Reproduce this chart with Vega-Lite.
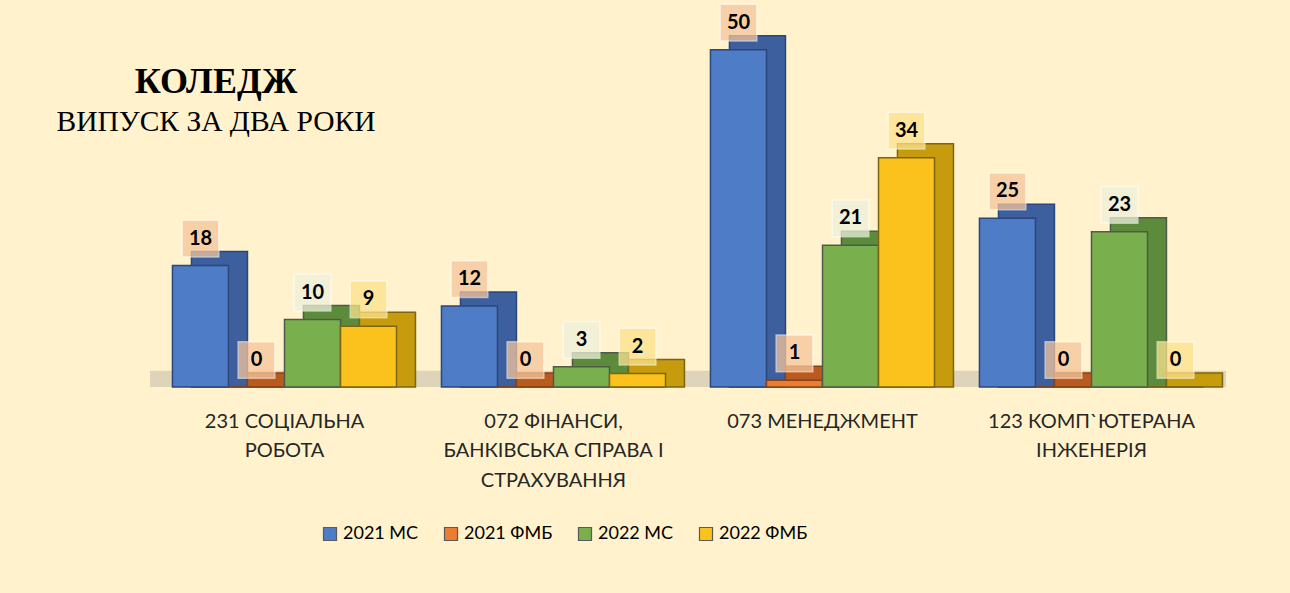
{
  "$schema": "https://vega.github.io/schema/vega-lite/v6.json",
  "autosize": {"type": "none"},
  "width": 1076,
  "height": 371,
  "padding": {"left": 150, "top": 16, "right": 64, "bottom": 206},
  "background": "#fff2cc",
  "config": {
    "view": {"stroke": null},
    "axisX": {
      "title": null,
      "domain": false,
      "ticks": false,
      "labelAngle": 0,
      "labelLimit": 0,
      "labelFont": "Lato",
      "labelFontSize": 20,
      "labelColor": "#262626",
      "labelPadding": 24,
      "labelLineHeight": 29.5
    }
  },
  "title": {
    "text": "КОЛЕДЖ",
    "subtitle": "ВИПУСК ЗА ДВА РОКИ",
    "anchor": "start",
    "align": "center",
    "dx": 66,
    "offset": -136,
    "font": "Liberation Serif",
    "fontSize": 36,
    "fontWeight": "bold",
    "color": "#000000",
    "subtitleFont": "Liberation Serif",
    "subtitleFontSize": 29.5,
    "subtitleColor": "#000000",
    "subtitlePadding": 7
  },
  "data": {
    "values": [
      {"cat": "231 СОЦІАЛЬНА|РОБОТА", "series": "2021 МС", "value": 18},
      {"cat": "231 СОЦІАЛЬНА|РОБОТА", "series": "2021 ФМБ", "value": 0},
      {"cat": "231 СОЦІАЛЬНА|РОБОТА", "series": "2022 МС", "value": 10},
      {"cat": "231 СОЦІАЛЬНА|РОБОТА", "series": "2022 ФМБ", "value": 9},
      {"cat": "072 ФІНАНСИ,|БАНКІВСЬКА СПРАВА І|СТРАХУВАННЯ", "series": "2021 МС", "value": 12},
      {"cat": "072 ФІНАНСИ,|БАНКІВСЬКА СПРАВА І|СТРАХУВАННЯ", "series": "2021 ФМБ", "value": 0},
      {"cat": "072 ФІНАНСИ,|БАНКІВСЬКА СПРАВА І|СТРАХУВАННЯ", "series": "2022 МС", "value": 3},
      {"cat": "072 ФІНАНСИ,|БАНКІВСЬКА СПРАВА І|СТРАХУВАННЯ", "series": "2022 ФМБ", "value": 2},
      {"cat": "073 МЕНЕДЖМЕНТ", "series": "2021 МС", "value": 50},
      {"cat": "073 МЕНЕДЖМЕНТ", "series": "2021 ФМБ", "value": 1},
      {"cat": "073 МЕНЕДЖМЕНТ", "series": "2022 МС", "value": 21},
      {"cat": "073 МЕНЕДЖМЕНТ", "series": "2022 ФМБ", "value": 34},
      {"cat": "123 КОМП`ЮТЕРАНА|ІНЖЕНЕРІЯ", "series": "2021 МС", "value": 25},
      {"cat": "123 КОМП`ЮТЕРАНА|ІНЖЕНЕРІЯ", "series": "2021 ФМБ", "value": 0},
      {"cat": "123 КОМП`ЮТЕРАНА|ІНЖЕНЕРІЯ", "series": "2022 МС", "value": 23},
      {"cat": "123 КОМП`ЮТЕРАНА|ІНЖЕНЕРІЯ", "series": "2022 ФМБ", "value": 0}
    ]
  },
  "layer": [
    {
      "data": {"values": [{"floor": 1}]},
      "mark": {"type": "rect", "color": "#ded4b9"},
      "encoding": {
        "x": {"value": 0},
        "x2": {"value": "width"},
        "y": {"datum": 0, "type": "quantitative", "scale": {"domain": [0, 55], "nice": false}, "axis": null},
        "y2": {"datum": 2.4}
      }
    },
    {
      "mark": {"type": "bar", "yOffset": -14, "strokeWidth": 1.5},
      "encoding": {
        "x": {
          "field": "cat", "type": "nominal", "sort": null,
          "scale": {"paddingInner": 0.167, "paddingOuter": 0.0835},
          "axis": {"labelExpr": "split(datum.value, '|')"}
        },
        "xOffset": {
          "field": "series", "type": "nominal",
          "sort": ["2021 МС", "2021 ФМБ", "2022 МС", "2022 ФМБ"],
          "scale": {"range": [19, 243], "paddingInner": 0, "paddingOuter": 0}
        },
        "y": {"field": "value", "type": "quantitative", "scale": {"domain": [0, 55], "nice": false}, "axis": null},
        "y2": {"datum": 0},
        "fill": {
          "field": "series", "type": "nominal",
          "scale": {"domain": ["2021 МС", "2021 ФМБ", "2022 МС", "2022 ФМБ"], "range": ["#3d5f9e", "#b95a1f", "#5c8b3b", "#c79b0e"]},
          "legend": null
        },
        "stroke": {
          "field": "series", "type": "nominal",
          "scale": {"domain": ["2021 МС", "2021 ФМБ", "2022 МС", "2022 ФМБ"], "range": ["#2a467a", "#8a4114", "#4f5a4a", "#7d6410"]},
          "legend": null
        }
      }
    },
    {
      "encoding": {
        "x": {
          "field": "cat", "type": "nominal", "sort": null,
          "scale": {"paddingInner": 0.167, "paddingOuter": 0.0835},
          "axis": {"labelExpr": "split(datum.value, '|')"}
        },
        "xOffset": {
          "field": "series", "type": "nominal",
          "sort": ["2021 МС", "2021 ФМБ", "2022 МС", "2022 ФМБ"],
          "scale": {"paddingInner": 0, "paddingOuter": 0}
        },
        "y": {"field": "value", "type": "quantitative", "scale": {"domain": [0, 55], "nice": false}, "axis": null}
      },
      "layer": [
        {
          "mark": {"type": "bar", "strokeWidth": 1.5},
          "encoding": {
            "fill": {
              "field": "series", "type": "nominal", "title": null,
              "scale": {"domain": ["2021 МС", "2021 ФМБ", "2022 МС", "2022 ФМБ"], "range": ["#4f7cc6", "#ec7c30", "#7aaf4e", "#fbc11c"]},
              "legend": {
                "orient": "none",
                "direction": "horizontal",
                "legendX": 171,
                "legendY": 509,
                "symbolType": "square",
                "symbolSize": 170,
                "symbolStrokeColor": "#5a5a5a",
                "symbolStrokeWidth": 1.2,
                "labelFont": "Lato",
                "labelFontSize": 18,
                "labelColor": "#000000",
                "labelOffset": 4,
                "columnPadding": 23
              }
            },
            "stroke": {
              "field": "series", "type": "nominal",
              "scale": {"domain": ["2021 МС", "2021 ФМБ", "2022 МС", "2022 ФМБ"], "range": ["#2a467a", "#8a4114", "#4f5a4a", "#7d6410"]},
              "legend": null
            }
          }
        },
        {
          "mark": {"type": "point", "shape": "square", "filled": true, "size": 1350, "yOffset": -27, "opacity": 0.75, "stroke": "#ffffff", "strokeWidth": 1.5, "strokeOpacity": 0.7},
          "encoding": {
            "fill": {
              "field": "series", "type": "nominal",
              "scale": {"domain": ["2021 МС", "2021 ФМБ", "2022 МС", "2022 ФМБ"], "range": ["#f6c59c", "#f6c59c", "#eef0da", "#fde38c"]},
              "legend": null
            }
          }
        },
        {
          "mark": {"type": "text", "dy": -27, "font": "Lato", "fontSize": 20, "fontWeight": "bold", "color": "#000000", "baseline": "middle"},
          "encoding": {
            "text": {"field": "value", "type": "quantitative"}
          }
        }
      ],
      "resolve": {"scale": {"fill": "independent"}}
    }
  ],
  "resolve": {"scale": {"fill": "independent", "stroke": "independent", "xOffset": "independent"}}
}
